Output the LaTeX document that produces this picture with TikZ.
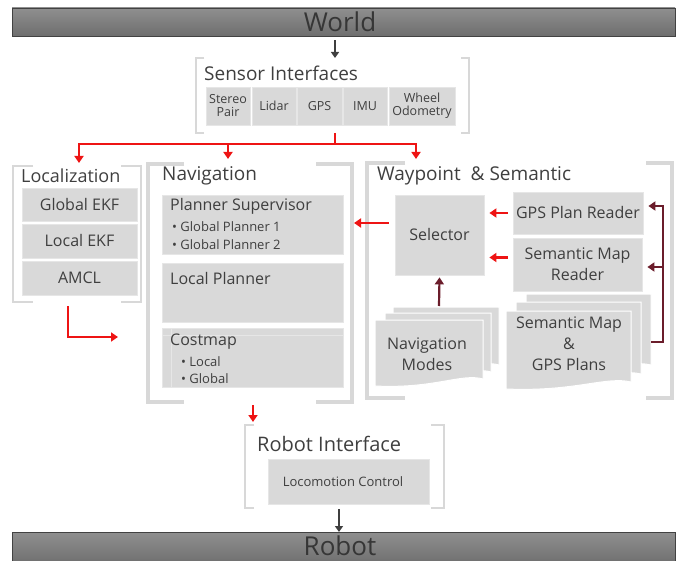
\documentclass[tikz,border=0pt]{standalone}
\usepackage{fontspec}
\setmainfont{Open Sans}
\usetikzlibrary{arrows.meta}
\definecolor{boxgray}{HTML}{D9D9D9}
\definecolor{boxedge}{HTML}{E6E6E6}
\definecolor{brk}{HTML}{D8D8D8}
\definecolor{txt}{HTML}{3F3F3F}
\definecolor{arrred}{HTML}{EE1414}
\definecolor{darkred}{HTML}{6B1D2B}
\definecolor{bartop}{HTML}{8F8F8F}
\definecolor{barbot}{HTML}{6E6E6E}
\tikzset{
  box/.style = {fill = boxgray, draw = boxedge, line width = 0.8pt, text = txt, inner sep = 0pt, align = center},
  bar/.style = {top color = bartop, bottom color = barbot, draw = barbot!60!black, line width = 0.6pt, inner sep = 0pt},
  label/.style = {text = txt, inner sep = 0pt, align = center},
  title/.style = {label, anchor = west, font = \fontsize{19}{22}\selectfont},
  redarrow/.style = {draw = arrred, line width = 2.2pt, -{Triangle[length = 7pt, width = 9pt]}},
  darkarrow/.style = {draw = darkred, line width = 2.2pt, -{Triangle[length = 7pt, width = 9pt]}},
  grayarrow/.style = {draw = txt, line width = 1.8pt, -{Triangle[length = 6pt, width = 8pt]}},
  page/.style = {fill = boxgray, draw = white, line width = 1pt}
}
% bracket: x1, y1, x2, y2, left tick, right tick, line width
\newcommand{\bracket}[7]{
  \draw[brk, line width = #7] (#1+#5, #2) -| (#1, #4) -- ++(#5, 0);
  \draw[brk, line width = #7] (#3-#6, #2) -| (#3, #4) -- ++(-#6, 0);
}
% page with wavy lower edge: x, y, width, height
\newcommand{\docpage}[4]{
  \filldraw[page] (#1, #2) -- (#1+#3, #2) -- (#1+#3, #2+#4-7)
    .. controls (#1+0.8*#3, #2+#4-13) and (#1+0.55*#3, #2+#4+3) .. (#1, #2+#4) -- cycle;
}

\begin{document}
\begin{tikzpicture}[x = 1pt, y = -1pt]
  \useasboundingbox (0, 0) rectangle (685, 561);

  % top and bottom bars
  \node[bar, minimum width = 663, minimum height = 28] (world) at (343.5, 22) {};
  \node[label, text = txt!85!black, font = \fontsize{26}{30}\selectfont] (worldtxt) at (340, 22) {World};
  \node[bar, minimum width = 663, minimum height = 32, anchor = north] (robot) at (343.5, 532) {};
  \node[label, text = txt!85!black, anchor = base, font = \fontsize{26}{30}\selectfont] (robottxt) at (340, 555) {Robot};

  % sensor interfaces
  \bracket{196}{58}{469}{133}{8}{8}{1.6pt}
  \node[title] (sensttl) at (204, 73) {Sensor Interfaces};
  \tikzset{every node/.append style = {font = \fontsize{12.5}{14}\selectfont}}
  \node[box, minimum width = 44, minimum height = 38] (stereo) at (228, 106) {Stereo\\[-1pt]Pair};
  \node[box, minimum width = 44, minimum height = 38] (lidar) at (274, 106) {Lidar};
  \node[box, minimum width = 45, minimum height = 38] (gps) at (319.5, 106) {GPS};
  \node[box, minimum width = 44, minimum height = 38] (imu) at (365, 106) {IMU};
  \node[box, minimum width = 66, minimum height = 38] (wheel) at (422, 106) {Wheel\\[-1pt]Odometry};
  \tikzset{every node/.append style = {font = \fontsize{16}{22}\selectfont}}

  % localization
  \bracket{13}{166}{141}{302}{20}{20}{2.6pt}
  \node[title, font = \fontsize{18}{22}\selectfont] (locttl) at (21, 176) {Localization};
  \node[box, minimum width = 115, minimum height = 33] (gekf) at (79.5, 204.5) {Global EKF};
  \node[box, minimum width = 115, minimum height = 34] (lekf) at (79.5, 241) {Local EKF};
  \node[box, minimum width = 115, minimum height = 34] (amcl) at (79.5, 278) {AMCL};

  % navigation
  \bracket{148}{164}{352}{402}{36}{36}{3.2pt}
  \node[title] (navttl) at (162, 176) {Navigation};
  \node[box, minimum width = 181, minimum height = 59] (super) at (252.5, 224.5) {};
  \node[label, anchor = west] (superttl) at (170, 206) {Planner Supervisor};
  \node[label, anchor = west, font = \fontsize{13}{14}\selectfont] (gp1) at (172, 227) {\textbullet\ Global Planner 1};
  \node[label, anchor = west, font = \fontsize{13}{14}\selectfont] (gp2) at (172, 245) {\textbullet\ Global Planner 2};
  \node[box, minimum width = 181, minimum height = 59] (lplan) at (252.5, 292.5) {};
  \node[label, anchor = west] (lplanttl) at (170, 278) {Local Planner};
  \node[box, minimum width = 181, minimum height = 59] (costmap) at (252.5, 357.5) {};
  \draw[boxedge, line width = 0.8pt] (171, 328) -- (171, 387); % table rule
  \draw[boxedge, line width = 0.8pt] (162, 335) -- (343, 335);
  \node[label, anchor = west] (costttl) at (170, 342) {Costmap};
  \node[label, anchor = west, font = \fontsize{13}{14}\selectfont] (cmlocal) at (181, 362) {\textbullet\ Local};
  \node[label, anchor = west, font = \fontsize{13}{14}\selectfont] (cmglobal) at (181, 379) {\textbullet\ Global};

  % waypoint & semantic
  \bracket{367}{163}{672}{398}{38}{26}{3.6pt}
  \node[title] (wpttl) at (377, 176) {Waypoint \ \& Semantic};
  \node[box, minimum width = 89, minimum height = 80] (selector) at (439.5, 235) {Selector};
  \node[box, minimum width = 130, minimum height = 42] (gpsr) at (578, 213) {GPS Plan Reader};
  \node[box, minimum width = 129, minimum height = 53, text depth = 0pt] (smr) at (577.5, 264.5) {Semantic Map\\[-1pt]Reader};
  \docpage{393}{307}{106}{65}
  \docpage{385}{313}{106}{66}
  \docpage{375}{320}{108}{66}
  \node[label] (navmodes) at (427, 354) {Navigation\\[-1pt]Modes};
  \docpage{526}{294}{125}{78}
  \docpage{516}{302}{125}{79}
  \docpage{506}{311}{125}{78}
  \node[label] (semdocs) at (569, 344) {Semantic Map\\[-1pt]\&\\[-1pt]GPS Plans};

  % robot interface
  \bracket{245}{425}{444}{508}{9}{13}{1.6pt}
  \node[title, font = \fontsize{20}{22}\selectfont] (rittl) at (257, 444) {Robot Interface};
  \node[box, minimum width = 161, minimum height = 45] (loco) at (348.5, 481.5) {};
  \node[label, font = \fontsize{13}{15}\selectfont] (locotxt) at (343, 482) {Locomotion Control};

  % connectors
  \coordinate (senstop) at (335, 58);
  \coordinate (sensbot) at (335, 133);
  \coordinate (split) at (335, 144);
  \coordinate (loctop) at (79, 163);
  \coordinate (navtop) at (228, 159);
  \coordinate (wptop) at (416, 159);
  \coordinate (locout) at (68, 306);
  \coordinate (navin) at (118, 337);
  \coordinate (navright) at (354, 223);
  \coordinate (navbot) at (253, 405);
  \coordinate (ritop) at (253, 422);
  \coordinate (nmtop) at (439, 306);
  \coordinate (semright) at (651, 342);
  \coordinate (rail) at (663, 342);

  \draw[grayarrow, shorten < = 4pt] (world.south -| senstop) -- (senstop);
  \draw[arrred, line width = 2.2pt] (sensbot) -- (split);
  \draw[redarrow] (split) -| (loctop);
  \draw[redarrow] (split) -| (navtop);
  \draw[redarrow] (split) -| (wptop);
  \draw[redarrow] (locout) |- (navin);
  \draw[redarrow, shorten < = 6pt] ([yshift = 12pt]selector.west) -- (navright);
  \draw[redarrow, shorten < = 5pt, shorten > = 5pt] (gpsr.west) -- (gpsr.west -| selector.east);
  \draw[redarrow, shorten < = 5pt, shorten > = 5pt] ([yshift = 7pt]smr.west) -- ([yshift = 7pt]smr.west -| selector.east);
  \draw[redarrow] (navbot) -- (ritop);
  \draw[darkarrow] (nmtop) -- ([yshift = -2pt]selector.south);
  \draw[darkarrow, shorten > = 5pt] (semright) -- (rail) -- (rail |- 0, 206) -- (gpsr.east |- 0, 206);
  \draw[darkarrow, shorten > = 5pt] (rail |- 0, 267) -- (smr.east |- 0, 267);
  \draw[grayarrow] (loco.south -| 339, 0) ++(0, 5) -- (robot.north -| 339, 0);
\end{tikzpicture}
\end{document}
